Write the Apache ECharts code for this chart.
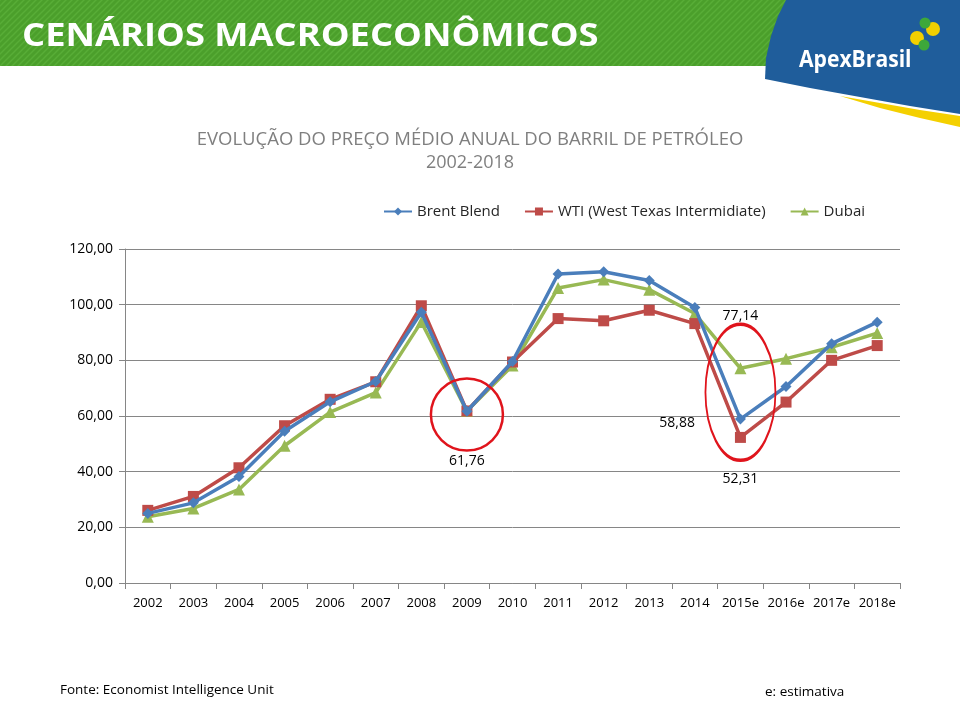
<!DOCTYPE html>
<html>
<head>
<meta charset="utf-8">
<script src="https://cdn.jsdelivr.net/npm/echarts@6/dist/echarts.min.js"></script>
<style>
  html, body { margin: 0; padding: 0; background: #fff; }
  #chart { width: 960px; height: 720px; }
</style>
</head>
<body>
<div id="chart"></div>
<script>
// anos (e = estimativa)
var years = ['2002', '2003', '2004', '2005', '2006', '2007', '2008', '2009', '2010',
             '2011', '2012', '2013', '2014', '2015e', '2016e', '2017e', '2018e'];
var brent = [25.0, 28.8, 38.3, 54.5, 65.1, 72.4, 97.3, 61.7, 79.6, 111.0, 111.8, 108.7, 99.0, 58.88, 70.6, 86.0, 93.7];
var wti   = [26.1, 31.1, 41.4, 56.5, 66.0, 72.3, 99.6, 61.8, 79.4, 95.0, 94.2, 98.0, 93.2, 52.31, 65.0, 80.0, 85.3];
var dubai = [23.8, 26.8, 33.6, 49.3, 61.4, 68.4, 93.8, 61.76, 78.1, 106.0, 109.0, 105.4, 96.8, 77.14, 80.6, 84.7, 89.8];
var yTicks = [0, 20, 40, 60, 80, 100, 120];

var font = "'Open Sans', sans-serif";
var fmt = function (v) { return Number(v).toFixed(2).replace('.', ','); };

// listras diagonais do cabeçalho
var hatch = document.createElement('canvas');
hatch.width = 6; hatch.height = 6;
var hc = hatch.getContext('2d');
hc.fillStyle = '#4b9f2b';
hc.fillRect(0, 0, 6, 6);
hc.strokeStyle = '#58ad37';
hc.lineWidth = 1.5;
hc.beginPath(); hc.moveTo(0, 6); hc.lineTo(6, 0); hc.moveTo(-1, 1); hc.lineTo(1, -1); hc.moveTo(5, 7); hc.lineTo(7, 5); hc.stroke();

// destaca um ponto com rótulo
function labeled(arr, idx, pos, offset) {
    return arr.map(function (v, i) {
        if (i !== idx) return v;
        return {
            value: v,
            label: { show: true, position: pos, offset: offset, formatter: function (p) { return fmt(p.value); },
                     color: '#000', fontSize: 14, fontFamily: font }
        };
    });
}

var chart = echarts.init(document.getElementById('chart'));
var option = {
    backgroundColor: '#fff',
    animation: false,
    title: {
        text: 'EVOLUÇÃO DO PREÇO MÉDIO ANUAL DO BARRIL DE PETRÓLEO',
        subtext: '2002-2018',
        left: 465, top: 125, textAlign: 'center', itemGap: 5,
        textStyle: { color: '#7f7f7f', fontSize: 18.5, fontWeight: 'normal', fontFamily: font },
        subtextStyle: { color: '#7f7f7f', fontSize: 18, fontFamily: font }
    },
    legend: {
        top: 199, left: 378, itemGap: 24, itemWidth: 28, itemHeight: 10,
        textStyle: { color: '#262626', fontSize: 15, fontFamily: font },
        data: ['Brent Blend', 'WTI (West Texas Intermidiate)', 'Dubai']
    },
    grid: { left: 125, right: 60, top: 249, bottom: 137 },
    xAxis: {
        type: 'category', data: years, boundaryGap: true,
        axisLine: { lineStyle: { color: '#868686' } },
        axisTick: { show: true, length: 6, lineStyle: { color: '#868686' } },
        axisLabel: { color: '#000', fontSize: 13, fontFamily: font, margin: 14, interval: 0 }
    },
    yAxis: {
        type: 'value', min: yTicks[0], max: yTicks[yTicks.length - 1], interval: 20,
        axisLine: { show: true, lineStyle: { color: '#868686' } },
        axisTick: { show: true, length: 6, lineStyle: { color: '#868686' } },
        splitLine: { lineStyle: { color: '#868686', width: 1 } },
        axisLabel: { color: '#000', fontSize: 14, fontFamily: font, margin: 12, formatter: fmt }
    },
    series: [
        {
            name: 'Brent Blend', type: 'line', data: labeled(brent, 13, 'left', [-35, 4]),
            symbol: 'diamond', symbolSize: 11, z: 4,
            itemStyle: { color: '#4a7ebb' }, lineStyle: { width: 3.5, color: '#4a7ebb' }
        },
        {
            name: 'WTI (West Texas Intermidiate)', type: 'line', data: labeled(wti, 13, 'bottom', [0, 24]),
            symbol: 'rect', symbolSize: 11, z: 3,
            itemStyle: { color: '#be4b48' }, lineStyle: { width: 3.5, color: '#be4b48' }
        },
        {
            name: 'Dubai', type: 'line',
            data: labeled(labeled(dubai, 13, 'top', [0, -34]), 7, 'bottom', [0, 32]),
            symbol: 'triangle', symbolSize: 12, z: 2,
            itemStyle: { color: '#98b954' }, lineStyle: { width: 3.5, color: '#98b954' },
            markPoint: {
                symbol: 'circle', silent: true,
                label: { show: false },
                itemStyle: { color: 'rgba(0,0,0,0)', borderColor: '#e0141c', borderWidth: 2.5 },
                data: [
                    { coord: ['2009', 60.5], symbolSize: [72, 72] },
                    { coord: ['2015e', 68.5], symbolSize: [70, 136] }
                ]
            }
        }
    ],
    graphic: [
        { type: 'rect', shape: { x: 0, y: 0, width: 960, height: 66 }, style: { fill: { image: hatch, repeat: 'repeat' } }, z: -1 },
        { type: 'polygon', shape: { points: [[840, 96], [880, 103], [920, 110], [960, 116], [960, 127], [920, 118], [880, 108]] },
          style: { fill: '#f4d000' } },
        { type: 'polygon', shape: { points: [[786, 0], [960, 0], [960, 114], [910, 106], [860, 97], [810, 88], [765, 79], [766, 58], [771, 36], [778, 16]] },
          style: { fill: '#1f5d9b' } },
        { type: 'text', x: 22, y: 37, scaleX: 1.1,
          style: { text: 'CENÁRIOS MACROECONÔMICOS', fill: '#fff', font: 'bold 33px ' + font, verticalAlign: 'middle',
                   shadowBlur: 3, shadowColor: 'rgba(0,0,0,0.8)', shadowOffsetX: 1.5, shadowOffsetY: 1.5 } },
        { type: 'text', x: 799, y: 60, scaleX: 0.88,
          style: { text: 'ApexBrasil', fill: '#fff', font: 'bold 24px ' + font, verticalAlign: 'middle' } },
        { type: 'circle', shape: { cx: 917, cy: 38, r: 7 }, style: { fill: '#f2cf00' } },
        { type: 'circle', shape: { cx: 933, cy: 29, r: 7 }, style: { fill: '#f2cf00' } },
        { type: 'circle', shape: { cx: 925, cy: 23, r: 5.5 }, style: { fill: '#3da83a' } },
        { type: 'circle', shape: { cx: 924, cy: 45, r: 5.5 }, style: { fill: '#3da83a' } },
        { type: 'text', left: 60, top: 683, style: { text: 'Fonte: Economist Intelligence Unit', fill: '#000', font: '13.5px ' + font } },
        { type: 'text', left: 765, top: 685, style: { text: 'e: estimativa', fill: '#000', font: '13.5px ' + font } }
    ]
};
chart.setOption(option);
</script>
</body>
</html>
